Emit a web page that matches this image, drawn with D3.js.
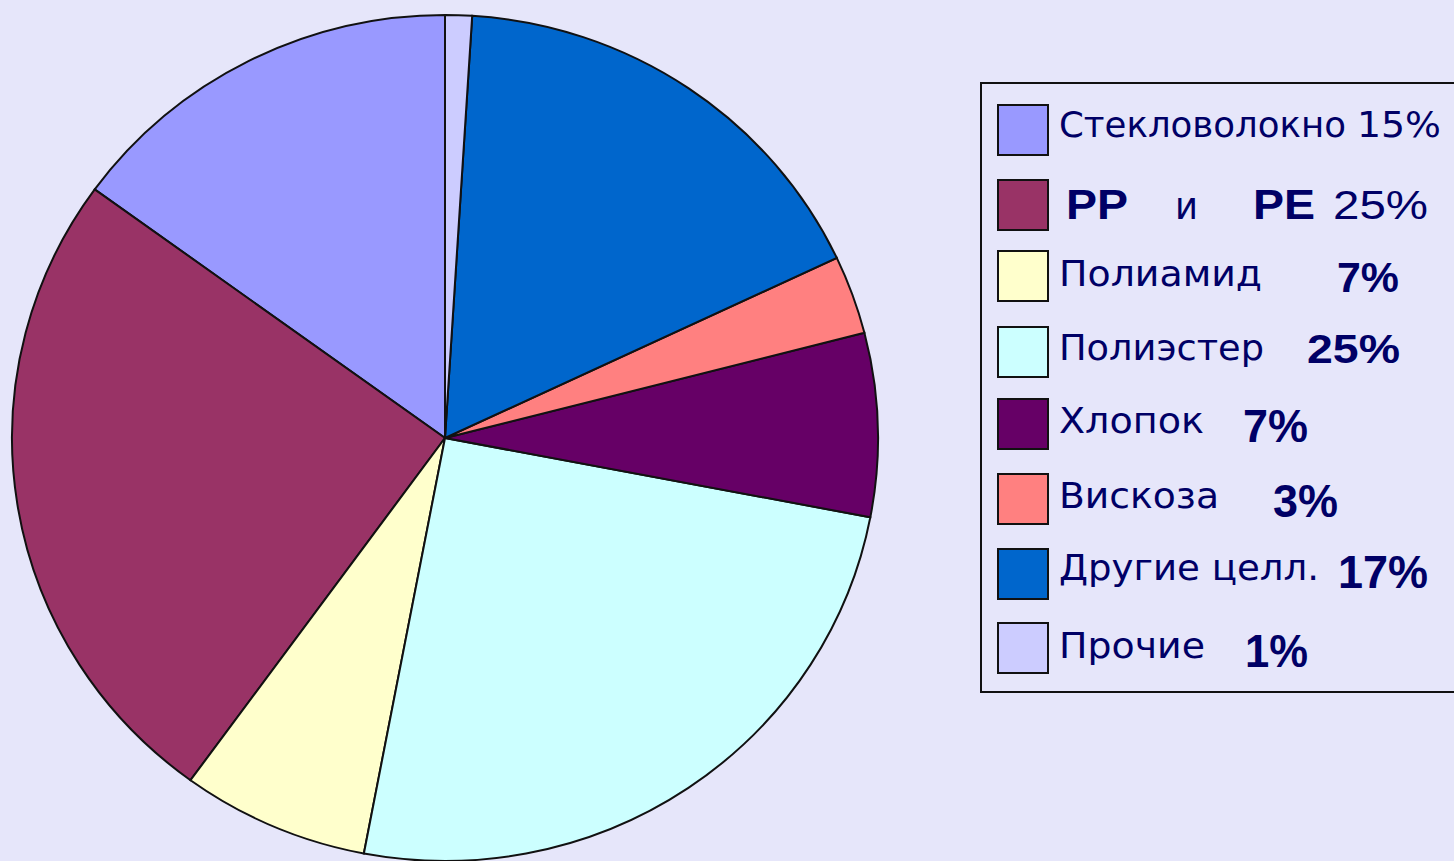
<!DOCTYPE html>
<html>
<head>
<meta charset="utf-8">
<script src="https://cdn.jsdelivr.net/npm/d3@7"></script>
<style>
  html, body { margin: 0; padding: 0; background: #e6e6fa; overflow: hidden; }
  .name { font-family: "DejaVu Sans", sans-serif; fill: #000066; }
  .pct { font-family: "Liberation Sans", Arial, sans-serif; fill: #000066; }
</style>
</head>
<body>
<div id="chart"></div>
<script>
// data, legend order
var categories = ["Стекловолокно", "PP и PE", "Полиамид", "Полиэстер", "Хлопок", "Вискоза", "Другие целл.", "Прочие"];
var shares = [15, 25, 7, 25, 7, 3, 17, 1];
var colors = ["#9999ff", "#993366", "#ffffcc", "#ccffff", "#660066", "#ff8080", "#0066cc", "#ccccff"];

function init() {
    var w = 1454, h = 861;
    var cx = 445, cy = 438;
    var rx = 433, ry = 423;

    var svg = d3.select("#chart")
                .append("svg")
                .attr("width", w)
                .attr("height", h);

    svg.append("rect")
        .attr("width", w)
        .attr("height", h)
        .attr("fill", "#e6e6fa");

    var color = d3.scaleOrdinal()
                .domain(categories)
                .range(colors);

    // slices run counter-clockwise from 12 o'clock in legend order
    var pie = d3.pie()
                .sort(null)
                .startAngle(0)
                .endAngle(-2 * Math.PI)
                .value(function(d) { return d.value; });

    var arc = d3.arc()
                .innerRadius(0)
                .outerRadius(rx);

    var data = categories.map(function(c, i) { return { name: c, value: shares[i] }; });

    var g = svg.append("g")
        .attr("transform", "translate(" + cx + "," + cy + ") scale(1," + (ry / rx) + ")");

    g.selectAll("path")
        .data(pie(data))
        .enter()
        .append("path")
        .attr("d", arc)
        .attr("fill", function(d) { return color(d.data.name); })
        .attr("stroke", "#111")
        .attr("stroke-width", 2)
        .attr("vector-effect", "non-scaling-stroke");

    // legend
    var legend = svg.append("g");

    legend.append("rect")
        .attr("x", 981)
        .attr("y", 83)
        .attr("width", 490)
        .attr("height", 609)
        .attr("fill", "#e6e6fa")
        .attr("stroke", "#111")
        .attr("stroke-width", 2);

    // rough hand layout of each legend line (the original is spaced by hand)
    var rows = [
        { top: 105, base: 137, nameW: 287, pctX: 1357, pctW: 84, pctBase: 137, size: 36, weight: "normal", font: "name" },
        { top: 180, base: 219, nameW: 0,   pctX: 1333, pctW: 95, pctBase: 219, size: 41, weight: "normal", font: "pct" },
        { top: 251, base: 286, nameW: 203, pctX: 1337, pctW: 62, pctBase: 292, size: 43, weight: "600",    font: "pct" },
        { top: 327, base: 360, nameW: 205, pctX: 1307, pctW: 93, pctBase: 363, size: 41, weight: "bold",   font: "pct" },
        { top: 399, base: 433, nameW: 145, pctX: 1243, pctW: 65, pctBase: 442, size: 46, weight: "bold",   font: "pct" },
        { top: 474, base: 508, nameW: 160, pctX: 1273, pctW: 65, pctBase: 517, size: 46, weight: "bold",   font: "pct" },
        { top: 549, base: 580, nameW: 260, pctX: 1338, pctW: 90, pctBase: 588, size: 46, weight: "bold",   font: "pct" },
        { top: 623, base: 658, nameW: 146, pctX: 1245, pctW: 63, pctBase: 667, size: 46, weight: "bold",   font: "pct" }
    ];

    var item = legend.selectAll(".item")
        .data(data)
        .enter()
        .append("g")
        .attr("class", "item");

    item.append("rect")
        .attr("x", 998)
        .attr("y", function(d, i) { return rows[i].top; })
        .attr("width", 50)
        .attr("height", 50)
        .attr("fill", function(d) { return color(d.name); })
        .attr("stroke", "#111")
        .attr("stroke-width", 2);

    item.each(function(d, i) {
        var r = rows[i];
        var sel = d3.select(this);
        if (d.name === "PP и PE") {
            var parts = d.name.split(" ");
            var px = [1066, 1175, 1253], pw = [62, 23, 62];
            parts.forEach(function(p, k) {
                sel.append("text")
                    .attr("class", k === 1 ? "name" : "pct")
                    .attr("x", px[k])
                    .attr("y", r.base)
                    .attr("font-size", k === 1 ? 38 : 43)
                    .attr("font-weight", k === 1 ? "normal" : "bold")
                    .attr("textLength", pw[k])
                    .attr("lengthAdjust", "spacingAndGlyphs")
                    .text(p);
            });
        } else {
            sel.append("text")
                .attr("class", "name")
                .attr("x", 1059)
                .attr("y", r.base)
                .attr("font-size", 35)
                .attr("textLength", r.nameW)
                .attr("lengthAdjust", "spacingAndGlyphs")
                .text(d.name);
        }
        sel.append("text")
            .attr("class", r.font)
            .attr("x", r.pctX)
            .attr("y", r.pctBase)
            .attr("font-size", r.size)
            .attr("font-weight", r.weight)
            .attr("textLength", r.pctW)
            .attr("lengthAdjust", "spacingAndGlyphs")
            .text(d.value + "%");
    });
}
window.onload = init;
</script>
</body>
</html>
